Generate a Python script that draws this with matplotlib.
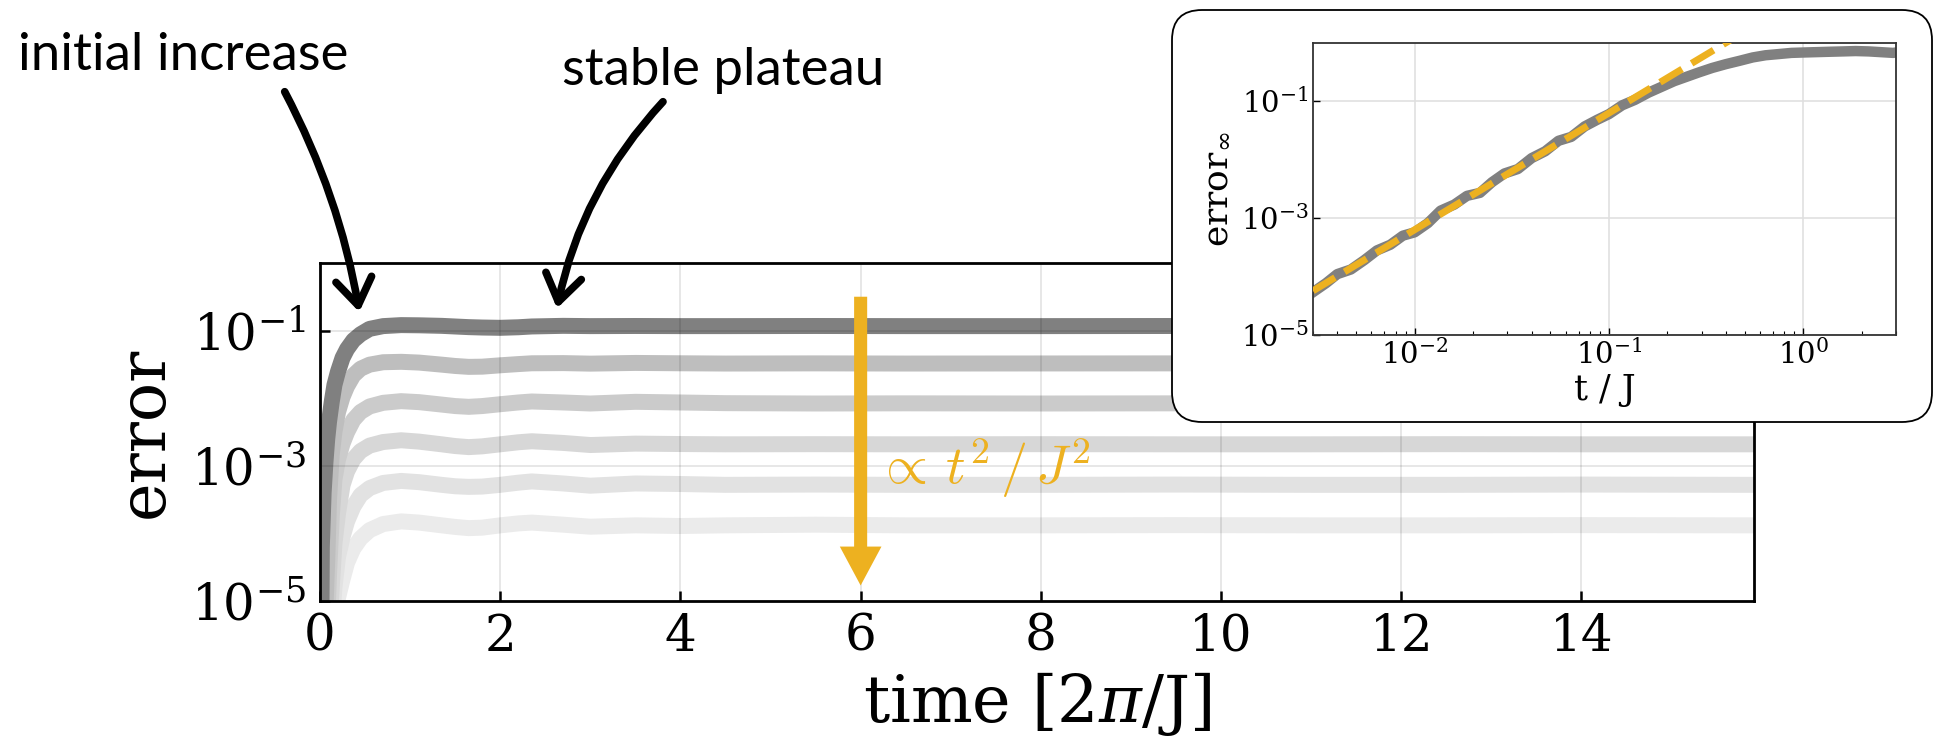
import matplotlib
matplotlib.use('Agg')
import matplotlib.pyplot as plt
from matplotlib.patches import FancyBboxPatch
from matplotlib.transforms import IdentityTransform
from matplotlib.ticker import NullLocator

plt.rcParams['font.family'] = 'DejaVu Serif'
plt.rcParams['mathtext.fontset'] = 'dejavuserif'

# main panel: error vs time [2pi/J], one curve per step size (dark = largest)
time = [0.0, 0.02, 0.04, 0.06, 0.08, 0.1, 0.13, 0.16, 0.2, 0.25, 0.3, 0.37, 0.45, 0.55,
        0.7, 0.9, 1.1, 1.35, 1.5, 1.65, 1.8, 2.0, 2.2, 2.35, 2.7, 3.0, 3.5, 4.0, 4.5,
        5.5, 6.5, 8.0, 9.5, 11.0, 12.5, 14.0, 15.9]

err_a = [1e-9, 6.3e-5, 4.0e-4, 1.12e-3, 2.5e-3, 4.5e-3, 8.9e-3, 0.0158, 0.0251, 0.0398,
         0.0537, 0.0724, 0.0891, 0.107, 0.1175, 0.1216, 0.1208, 0.1186, 0.116, 0.1135,
         0.112, 0.1109, 0.113, 0.1161, 0.1186, 0.1175, 0.118, 0.1175, 0.1175, 0.118,
         0.1175, 0.1175, 0.118, 0.1175, 0.1175, 0.118, 0.1175]
err_b = [1e-9, 1e-9, 2.5e-6, 7.9e-6, 4.0e-5, 3.2e-4, 1.48e-3, 3.2e-3, 6.3e-3, 0.0105,
         0.0151, 0.0219, 0.0275, 0.0316, 0.0343, 0.0348, 0.0339, 0.0316, 0.0302, 0.0293,
         0.0295, 0.0309, 0.0322, 0.0331, 0.0333, 0.0327, 0.0335, 0.0331, 0.0328, 0.033,
         0.0328, 0.0329, 0.033, 0.0328, 0.0329, 0.033, 0.0329]
err_c = [1e-9, 1e-9, 3.2e-7, 1e-6, 5e-6, 2.5e-5, 1.78e-4, 6.3e-4, 1.26e-3, 2.14e-3,
         3.16e-3, 4.8e-3, 6.3e-3, 7.6e-3, 8.6e-3, 9.1e-3, 8.8e-3, 8.1e-3, 7.7e-3, 7.5e-3,
         7.7e-3, 8.2e-3, 8.7e-3, 9.0e-3, 8.7e-3, 8.4e-3, 8.9e-3, 8.7e-3, 8.5e-3, 8.4e-3,
         8.45e-3, 8.4e-3, 8.45e-3, 8.4e-3, 8.4e-3, 8.45e-3, 8.4e-3]
err_d = [1e-9, 1e-9, 1e-7, 3.2e-7, 1e-6, 3.2e-6, 1.6e-5, 7.1e-5, 2.0e-4, 5.2e-4,
         8.3e-4, 1.26e-3, 1.66e-3, 2.0e-3, 2.26e-3, 2.4e-3, 2.29e-3, 2.09e-3, 1.97e-3,
         1.9e-3, 1.95e-3, 2.09e-3, 2.24e-3, 2.32e-3, 2.19e-3, 2.04e-3, 2.14e-3, 2.11e-3,
         2.09e-3, 2.1e-3, 2.09e-3, 2.1e-3, 2.09e-3, 2.09e-3, 2.1e-3, 2.09e-3, 2.09e-3]
err_e = [1e-9, 1e-9, 1e-9, 1e-8, 1.6e-7, 1e-6, 4e-6, 1.6e-5, 4.5e-5, 8.9e-5,
         1.51e-4, 2.5e-4, 3.7e-4, 4.7e-4, 5.6e-4, 6.0e-4, 5.75e-4, 5.25e-4, 5.0e-4,
         4.9e-4, 4.95e-4, 5.25e-4, 5.65e-4, 5.9e-4, 5.5e-4, 5.1e-4, 5.5e-4, 5.4e-4,
         5.25e-4, 5.3e-4, 5.25e-4, 5.25e-4, 5.3e-4, 5.25e-4, 5.25e-4, 5.3e-4, 5.25e-4]
err_f = [1e-9, 1e-9, 1e-9, 3e-9, 3e-8, 1.6e-7, 1e-6, 4e-6, 1.12e-5, 2.1e-5,
         3.7e-5, 6.0e-5, 8.5e-5, 1.12e-4, 1.38e-4, 1.51e-4, 1.45e-4, 1.32e-4, 1.25e-4,
         1.2e-4, 1.22e-4, 1.32e-4, 1.41e-4, 1.45e-4, 1.35e-4, 1.26e-4, 1.32e-4, 1.29e-4,
         1.32e-4, 1.35e-4, 1.32e-4, 1.32e-4, 1.33e-4, 1.32e-4, 1.32e-4, 1.33e-4, 1.32e-4]

shades = ['#808080', '#bebebe', '#cbcbcb', '#d7d7d7', '#e2e2e2', '#ebebeb']
x_ticks = [0, 2, 4, 6, 8, 10, 12, 14]
y_ticks = [1e-5, 1e-3, 1e-1]

# inset: infinity-norm error vs t/J, with t^2 guide
t_inset = [0.003, 0.0035, 0.004, 0.0047, 0.0055, 0.0064, 0.0075, 0.0087, 0.010, 0.0117,
           0.0136, 0.016, 0.0186, 0.0217, 0.025, 0.029, 0.034, 0.04, 0.047, 0.055,
           0.064, 0.075, 0.087, 0.10, 0.117, 0.136, 0.16, 0.186, 0.217, 0.25, 0.29,
           0.34, 0.4, 0.47, 0.55, 0.64, 0.75, 0.87, 1.0, 1.17, 1.36, 1.6, 1.86, 2.17,
           2.5, 2.9, 3.0]
err_inset = [5.4e-5, 7.7e-5, 1.1e-4, 1.32e-4, 1.9e-4, 2.8e-4, 3.5e-4, 5.0e-4, 5.7e-4,
             8.2e-4, 1.34e-3, 1.7e-3, 2.4e-3, 2.7e-3, 4.1e-3, 5.8e-3, 6.9e-3, 0.0106,
             0.0139, 0.021, 0.0245, 0.037, 0.048, 0.060, 0.085, 0.105, 0.14, 0.175,
             0.22, 0.26, 0.31, 0.37, 0.43, 0.49, 0.56, 0.61, 0.64, 0.67, 0.68, 0.69,
             0.70, 0.71, 0.72, 0.71, 0.69, 0.67, 0.68]
t_fit = [0.003, 0.42]
err_fit = [5.7e-5, 1.1]

orange = '#EDB120'

fig = plt.figure(figsize=(19.36, 7.39), dpi=100)
ax = fig.add_axes([0.1653, 0.1867, 0.7407, 0.4570])

curves = [err_a, err_b, err_c, err_d, err_e, err_f]
for err, col in reversed(list(zip(curves, shades))):
    ax.plot(time, err, color=col, lw=11.5, zorder=3)

ax.set_yscale('log')
ax.set_ylim(1e-5, 1)
ax.set_xlim(0, 15.915)
ax.set_xticks(x_ticks)
ax.set_yticks(y_ticks)
ax.yaxis.set_minor_locator(NullLocator())
ax.tick_params(direction='in', length=7.5, width=1.8, labelsize=36, pad=8)
ax.tick_params(axis='y', pad=10)
for s in ax.spines.values():
    s.set_linewidth(2)
    s.set_zorder(5)

# grid drawn over the curves, faint
for xv in x_ticks[1:]:
    ax.axvline(xv, color='k', alpha=0.12, lw=1.1, zorder=3.5)
for yv in y_ticks[1:]:
    ax.axhline(yv, color='k', alpha=0.12, lw=1.1, zorder=3.5)

ax.set_xlabel(r'time [2$\pi$/J]', fontsize=47, labelpad=6)
ax.set_ylabel('error', fontsize=47, labelpad=10)

# scaling arrow
ax.annotate('', xy=(6, 1.7e-5), xytext=(6, 0.32),
            arrowprops=dict(arrowstyle='simple,head_length=1.4,head_width=1.5,tail_width=0.47',
                            mutation_scale=20, color=orange, lw=0, shrinkA=0, shrinkB=0),
            zorder=6)
ax.text(6.17, 5.4e-4, r'$\propto\, t^2\,/\,J^2$', color=orange, fontsize=39,
        math_fontfamily='cm', va='baseline', ha='left', zorder=6)

# annotations
black_arrow = dict(arrowstyle='->,head_length=1.9,head_width=1.3', mutation_scale=10,
                   lw=5.5, color='k', shrinkA=0, shrinkB=0)
ax.annotate('', xy=(0.436, 0.19), xytext=(284.7, 647.3), textcoords='figure pixels',
            arrowprops=dict(black_arrow, connectionstyle='arc3,rad=-0.08'),
            annotation_clip=False)
ax.annotate('', xy=(2.63, 0.215), xytext=(663, 637.3), textcoords='figure pixels',
            arrowprops=dict(black_arrow, connectionstyle='arc3,rad=0.14'),
            annotation_clip=False)
fig.text(18 / 1936, 669 / 739, 'initial increase', family='Lato', fontsize=38, va='baseline')
fig.text(562 / 1936, 654 / 739, 'stable plateau', family='Lato', fontsize=38, va='baseline')

# inset in rounded frame
box = FancyBboxPatch((1172, 317), 760, 412, boxstyle='round,pad=0,rounding_size=30',
                     transform=IdentityTransform(), facecolor='white', edgecolor='black',
                     lw=1.3, zorder=1)
fig.add_artist(box)

ax_in = fig.add_axes([0.6782, 0.5467, 0.3011, 0.3955], zorder=2)
ax_in.plot(t_inset, err_inset, color='#808080', lw=7.5, zorder=2)
ax_in.plot(t_fit, err_fit, color=orange, lw=5, ls='--', zorder=3)
ax_in.set_xscale('log')
ax_in.set_yscale('log')
ax_in.set_xlim(0.003, 3.0)
ax_in.set_ylim(1e-5, 1)
ax_in.set_yticks(y_ticks)
ax_in.yaxis.set_minor_locator(NullLocator())
ax_in.tick_params(which='both', direction='in', labelsize=21, pad=3)
ax_in.tick_params(which='major', length=5, width=1)
ax_in.tick_params(which='minor', length=3, width=0.8)
ax_in.grid(True, which='major', color='#e0e0e0', lw=1.2)
for s in ax_in.spines.values():
    s.set_linewidth(1.3)
    s.set_color('#333333')
ax_in.set_xlabel('t / J', fontsize=25, labelpad=2)
ax_in.set_ylabel(r'error$_\infty$', fontsize=26, labelpad=6)

fig.savefig('out.png', dpi=100)
